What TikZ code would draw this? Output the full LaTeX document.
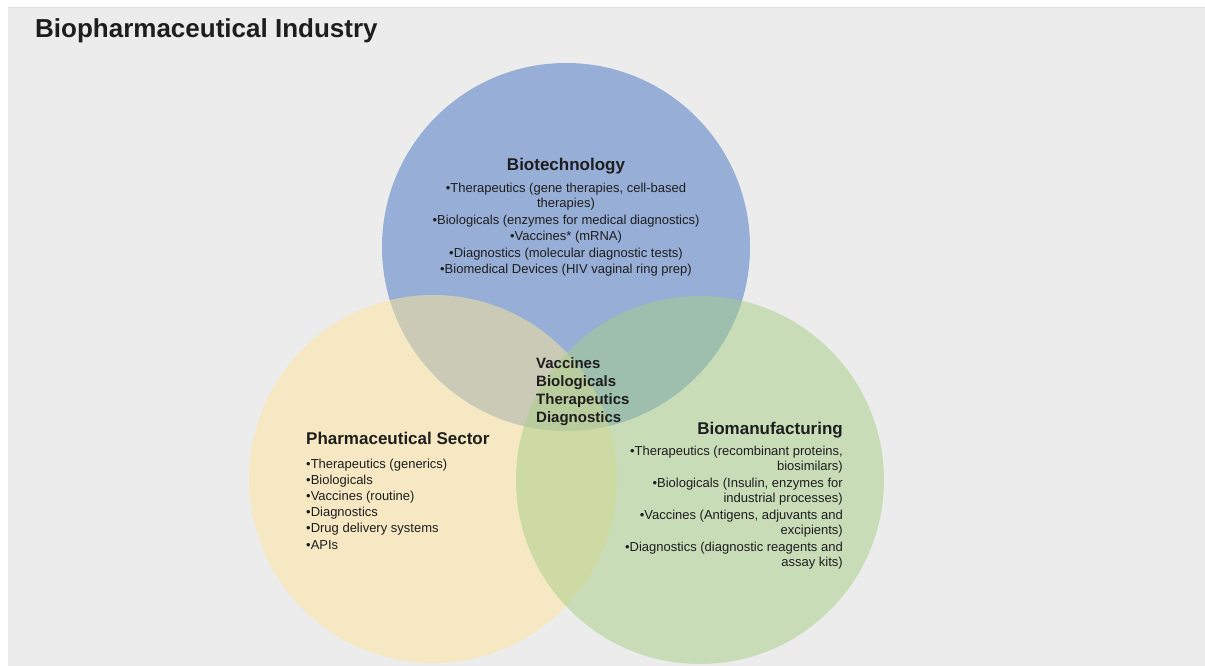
\documentclass[tikz,border=0pt]{standalone}
\usepackage{fontspec}
\setmainfont{Liberation Sans}
\definecolor{slidegray}{HTML}{ECECEC}
\definecolor{techblue}{HTML}{4472C4}
\definecolor{pharmyellow}{HTML}{FFE699}
\definecolor{mfggreen}{HTML}{A6CE86}
\definecolor{inkgray}{HTML}{1E1E1E}
\begin{document}
\begin{tikzpicture}[x=1pt, y=-1pt, text=inkgray,
  area/.style={fill opacity=.5},
  head/.style={font=\fontsize{17}{20}\selectfont\bfseries, inner sep=0},
  items/.style={font=\fontsize{13}{15}\selectfont, inner sep=0},
  core/.style={font=\fontsize{15}{18}\selectfont\bfseries, inner sep=0, align=left}]
\useasboundingbox (0,0) rectangle (1205,666);
\fill[white] (0,0) rectangle (1205,666);
\fill[slidegray] (8,7) rectangle (1205,666);
\draw[black!12, line width=1.5pt] (8,7.5) -- (1205,7.5);
\foreach \c/\x/\y in {techblue/566/247, pharmyellow/433/479, mfggreen/700/480}
{
    \fill[\c, area] (\x,\y) circle[radius=184pt];
}
\node (title) at (35,38)[anchor=base west, inner sep=0, font=\fontsize{26}{30}\selectfont\bfseries]{Biopharmaceutical Industry};
% top circle
\node (biotech) at (566,171)[head, anchor=base]{Biotechnology};
\node (biotechlist) at (566,183)[items, anchor=north, align=center]{%
    •Therapeutics (gene therapies, cell-based\\ therapies)\\[1.5pt]
    •Biologicals (enzymes for medical diagnostics)\\[1.5pt]
    •Vaccines* (mRNA)\\[1.5pt]
    •Diagnostics (molecular diagnostic tests)\\[1.5pt]
    •Biomedical Devices (HIV vaginal ring prep)};
% left circle
\node (pharma) at (306,444)[head, anchor=base west]{Pharmaceutical Sector};
\node (pharmalist) at (306,458.5)[items, anchor=north west, align=left]{%
    •Therapeutics (generics)\\[1.2pt]
    •Biologicals\\[1.2pt]
    •Vaccines (routine)\\[1.2pt]
    •Diagnostics\\[1.2pt]
    •Drug delivery systems\\[1.2pt]
    •APIs};
% right circle
\node (biomfg) at (843,434)[head, anchor=base east]{Biomanufacturing};
\node (biomfglist) at (843,446)[items, anchor=north east, align=right]{%
    •Therapeutics (recombinant proteins,\\ biosimilars)\\[2pt]
    •Biologicals (Insulin, enzymes for\\ industrial processes)\\[2pt]
    •Vaccines (Antigens, adjuvants and\\ excipients)\\[2pt]
    •Diagnostics (diagnostic reagents and\\ assay kits)};
% overlap of all three
\node (shared) at (536,357)[core, anchor=north west]{Vaccines\\ Biologicals\\ Therapeutics\\ Diagnostics};
\end{tikzpicture}
\end{document}
